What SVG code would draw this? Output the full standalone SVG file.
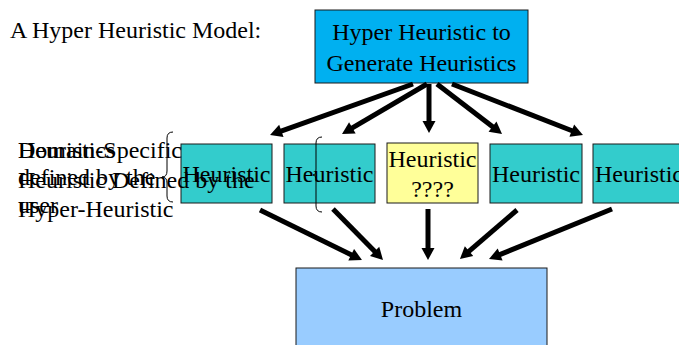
<svg xmlns="http://www.w3.org/2000/svg" width="679" height="345" viewBox="0 0 679 345">
  <style>
    text { font-family: "Liberation Serif", "Times New Roman", serif; font-size: 24px; fill: #000; }
    .mid { text-anchor: middle; }
    .box { stroke: #1a1a1a; stroke-width: 1; }
    .heur { fill: #33CCCC; }
    .conn line { stroke: #000; stroke-width: 5; marker-end: url(#head); }
    .brace { fill: none; stroke: #000; stroke-width: 1; }
  </style>
  <defs>
    <marker id="head" markerUnits="userSpaceOnUse" markerWidth="14" markerHeight="14" viewBox="0 -7 13 14" refX="1" refY="0" orient="auto">
      <path d="M0,-6.5 L12,0 L0,6.5 z" fill="#000"/>
    </marker>
  </defs>

  <rect width="679" height="345" fill="#fff"/>

  <text x="10" y="38">A Hyper Heuristic Model:</text>

  <g id="generator">
    <rect class="box" x="315" y="10" width="213" height="73" fill="#00B0F0"/>
    <text class="mid" x="421.5" y="40">Hyper Heuristic to</text>
    <text class="mid" x="421.5" y="71">Generate Heuristics</text>
  </g>

  <g id="heuristic-1">
    <rect class="box heur" x="181" y="144" width="91" height="59"/>
    <text class="mid" x="226.5" y="182">Heuristic</text>
  </g>
  <g id="heuristic-2">
    <rect class="box heur" x="284" y="144" width="91" height="59"/>
    <text class="mid" x="329.5" y="182">Heuristic</text>
  </g>
  <g id="heuristic-new">
    <rect class="box" x="387" y="143" width="91" height="60" fill="#FFFF99"/>
    <text class="mid" x="432.5" y="167">Heuristic</text>
    <text class="mid" x="432.5" y="197">????</text>
  </g>
  <g id="heuristic-4">
    <rect class="box heur" x="490" y="144" width="92" height="59"/>
    <text class="mid" x="536" y="182">Heuristic</text>
  </g>
  <g id="heuristic-5">
    <rect class="box heur" x="593" y="144" width="92" height="59"/>
    <text class="mid" x="639" y="182">Heuristic</text>
  </g>

  <g id="problem">
    <rect class="box" x="296" y="268" width="251" height="90" fill="#99CCFF"/>
    <text class="mid" x="421.5" y="317">Problem</text>
  </g>

  <!-- side labels, drawn over the boxes -->
  <g id="label-user">
    <text x="18" y="158">Heuristics</text>
    <text x="18" y="185">defined by the</text>
    <text x="18" y="213">user</text>
  </g>
  <g id="label-hyper">
    <text x="18" y="158">Domain-Specific</text>
    <text x="18" y="188">Heuristic Defined by the</text>
    <text x="18" y="217">Hyper-Heuristic</text>
  </g>

  <!-- braces -->
  <g id="braces">
    <path class="brace" d="M173,132 Q167,132 167,138 L167,171 Q167,177 162,177 Q167,177 167,183 L167,196 Q167,202 173,202"/>
    <path class="brace" d="M322,137 Q316,137 316,143 L316,169 Q316,175 313,175 Q316,175 316,181 L316,206 Q316,212 322,212"/>
  </g>

  <g id="connectors" class="conn">
    <line x1="413" y1="84" x2="280.4" y2="131.3"/>
    <line x1="427" y1="84" x2="351.5" y2="128.4"/>
    <line x1="429" y1="84" x2="429" y2="122"/>
    <line x1="437" y1="84" x2="493.3" y2="127.3"/>
    <line x1="452" y1="84" x2="572.7" y2="131"/>
    <line x1="260" y1="210" x2="352.1" y2="255.2"/>
    <line x1="333" y1="209" x2="375.3" y2="252.1"/>
    <line x1="428" y1="209" x2="428" y2="249"/>
    <line x1="517" y1="210" x2="468.3" y2="251.8"/>
    <line x1="612" y1="209" x2="499.2" y2="254.9"/>
  </g>
</svg>
